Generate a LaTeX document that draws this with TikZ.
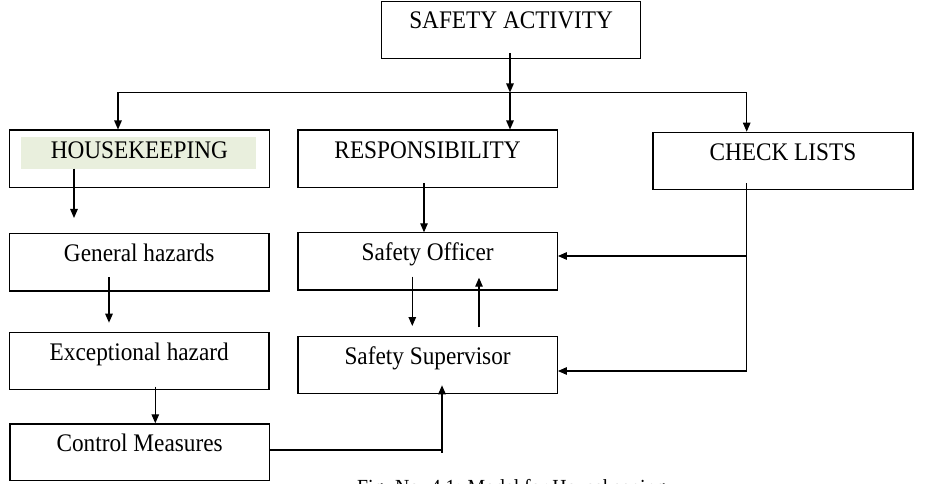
\documentclass[tikz,border=0pt]{standalone}
\usepackage{fontspec}
\setmainfont{Liberation Serif}
\newfontfamily\boxfont[FakeStretch=0.92]{Liberation Serif}
\usetikzlibrary{arrows.meta}
\definecolor{hlgreen}{RGB}{233,239,221}
\tikzset{
  box/.style={draw=black, line width=1.2pt, anchor=north west, inner sep=0pt, rectangle},
  lbl/.style={anchor=base, inner sep=0pt, font=\boxfont\fontsize{25.3pt}{28pt}\selectfont},
  conn/.style={line width=1.2pt},
  arr/.style={line width=1.2pt, -{Triangle[length=9pt,width=7.5pt]}},
}
\begin{document}
\begin{tikzpicture}[x=1pt, y=-1pt]
\useasboundingbox (0,0) rectangle (946,484);
\clip (0,0) rectangle (946,484);
% boxes
\node[box, minimum width=259pt, minimum height=57pt] (sa) at (381,1) {};
\node[box, minimum width=259.5pt, minimum height=57.5pt] (hk) at (9,129.5) {};
\node[box, minimum width=259.4pt, minimum height=57.2pt] (resp) at (297.3,129.5) {};
\node[box, minimum width=260pt, minimum height=57.3pt] (cl) at (652.3,131.7) {};
\node[box, minimum width=259.3pt, minimum height=57pt] (gh) at (9,233.3) {};
\node[box, minimum width=259.3pt, minimum height=57.3pt] (ex) at (9,331.7) {};
\node[box, minimum width=259.4pt, minimum height=56.7pt] (cm) at (9.3,423.3) {};
\node[box, minimum width=259.4pt, minimum height=57pt] (so) at (297.3,232.3) {};
\node[box, minimum width=259.4pt, minimum height=57pt] (ss) at (297.3,335.7) {};
% highlight
\fill[hlgreen] (21,136.7) rectangle (256,168.7);
% labels
\node[lbl] (tsa) at ([yshift=-28pt]sa.north) {SAFETY ACTIVITY};
\node[lbl] (thk) at ([yshift=-29pt]hk.north) {HOUSEKEEPING};
\node[lbl] (tresp) at ([yshift=-29pt]resp.north) {RESPONSIBILITY};
\node[lbl] (tcl) at ([yshift=-29pt]cl.north) {CHECK LISTS};
\node[lbl] (tgh) at ([yshift=-28.5pt]gh.north) {General hazards};
\node[lbl] (tex) at ([yshift=-29pt]ex.north) {Exceptional hazard};
\node[lbl] (tcm) at ([yshift=-28pt]cm.north) {Control Measures};
\node[lbl] (tso) at ([yshift=-28.4pt]so.north) {Safety Officer};
\node[lbl] (tss) at ([yshift=-28.6pt]ss.north) {Safety Supervisor};
% caption (cut off by the page edge)
\node[anchor=base west, inner sep=0pt, font=\boxfont\fontsize{21.5pt}{24pt}\selectfont] (cap) at (357,494) {Fig. No. 4.1: Model for Housekeeping};
% coordinates
\coordinate (saS) at (510,53);
\coordinate (j) at (510,92.5);
\coordinate (jl) at (118,92.5);
\coordinate (jr) at (746.7,92.5);
\coordinate (hkS) at (74,168.7);
\coordinate (hkE) at (74,218);
\coordinate (ghS) at (109,277);
\coordinate (ghE) at (109,322.7);
\coordinate (exS) at (155.3,386.7);
\coordinate (respS) at (424,183);
\coordinate (soS) at (412.3,276.7);
\coordinate (soE) at (412.3,326);
\coordinate (ssN) at (479,327.3);
\coordinate (ssE) at (479,277.7);
\coordinate (clS) at (746.7,183.3);
\coordinate (clA) at (746.7,256);
\coordinate (clB) at (746.7,371);
\coordinate (cmA) at (442,450);
\coordinate (cmB) at (442,452.7);
\coordinate (ssT) at (442,385.3);
% connectors
\draw[arr] (saS) -- (j);
\draw[conn, line width=1pt] (jl) -- (jr);
\draw[arr] (jl) -- (jl |- hk.north);
\draw[arr] (j) -- (j |- resp.north);
\draw[arr] (jr) -- (jr |- cl.north);
\draw[arr] (hkS) -- (hkE);
\draw[arr] (ghS) -- (ghE);
\draw[arr] (exS) -- (exS |- cm.north);
\draw[arr] (respS) -- (respS |- so.north);
\draw[arr] (soS) -- (soE);
\draw[arr] (ssN) -- (ssE);
\draw[conn] (clS) -- (clB);
\draw[arr] (clA) -- (clA -| so.east);
\draw[arr] (clB) -- (clB -| ss.east);
\draw[conn] (cm.east |- cmA) -- (cmA) -- (cmB);
\draw[arr] (cmA) -- (ssT);
\end{tikzpicture}
\end{document}
